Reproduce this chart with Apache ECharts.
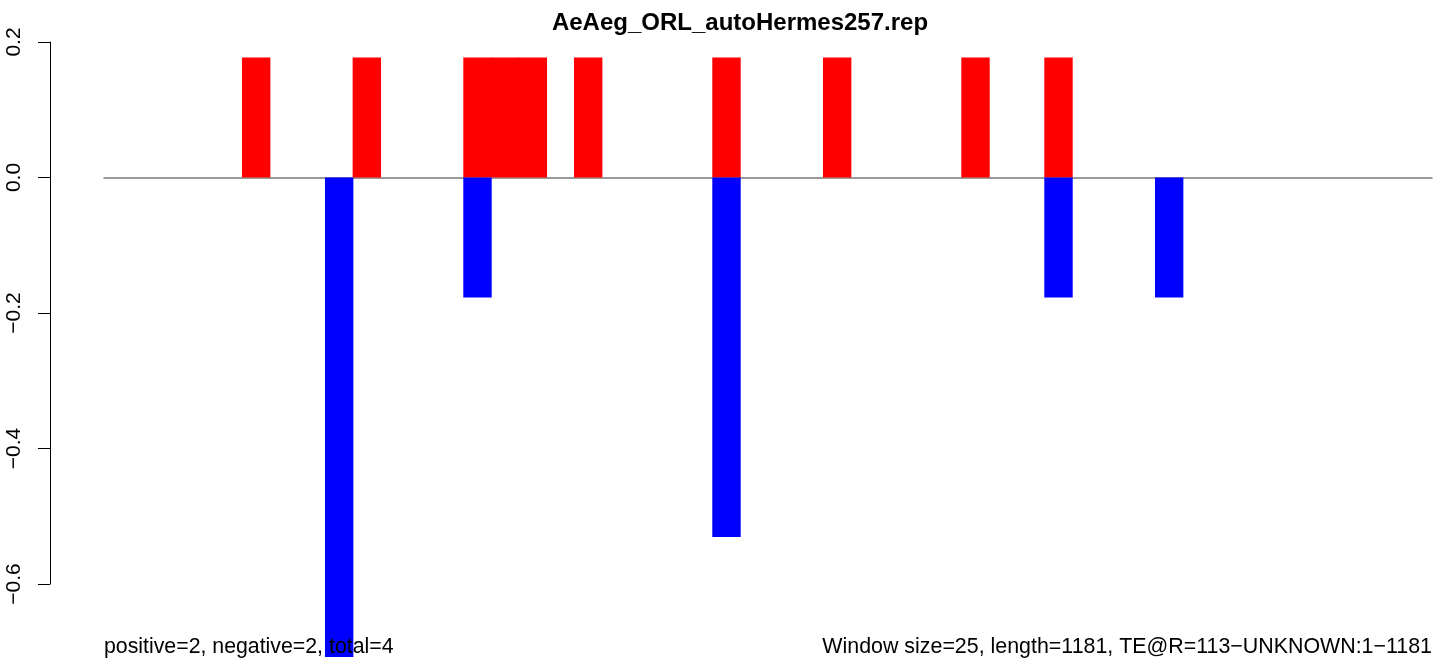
<!DOCTYPE html>
<html>
<head>
<meta charset="utf-8">
<script src="https://cdn.jsdelivr.net/npm/echarts@6/dist/echarts.min.js"></script>
<style>
html,body{margin:0;padding:0;background:#fff;}
#chart{width:1441px;height:667px;}
</style>
</head>
<body>
<div id="chart"></div>
<script>
// Window indices (48 windows of size 25 over length 1181)
const categories = Array.from({length: 48}, (_, i) => String(i + 1));
// Positive (red) values per window
const positiveValues = [
  0, 0, 0, 0, 0, 0.177, 0, 0, 0, 0.177,
  0, 0, 0, 0.177, 0.177, 0.177, 0, 0.177, 0, 0,
  0, 0, 0.177, 0, 0, 0, 0.177, 0, 0, 0,
  0, 0.177, 0, 0, 0.177, 0, 0, 0, 0, 0,
  0, 0, 0, 0, 0, 0, 0, 0
];
// Negative (blue) values per window
const negativeValues = [
  0, 0, 0, 0, 0, 0, 0, 0, -0.707, 0,
  0, 0, 0, -0.177, 0, 0, 0, 0, 0, 0,
  0, 0, -0.530, 0, 0, 0, 0, 0, 0, 0,
  0, 0, 0, 0, -0.177, 0, 0, 0, -0.177, 0,
  0, 0, 0, 0, 0, 0, 0, 0
];
const yTicks = [-0.6, -0.4, -0.2, 0.0, 0.2];
const titleText = 'AeAeg_ORL_autoHermes257.rep';
const leftNote = 'positive=2, negative=2, total=4';
const rightNote = 'Window size=25, length=1181, TE@R=113\u2212UNKNOWN:1\u22121181';

const FONT = '"Liberation Sans", Arial, Helvetica, sans-serif';
const chart = echarts.init(document.getElementById('chart'), null, {renderer: 'canvas'});

const fmt = v => {
  const r = Math.round(v * 10) / 10;
  return (r < 0 ? '\u2212' : '') + Math.abs(r).toFixed(1);
};
const toBars = arr => arr.map(v => (v === 0 ? null : v));

chart.setOption({
  animation: false,
  backgroundColor: '#ffffff',
  grid: [
    {left: 104, right: 9, top: 42, bottom: 8},
    {left: 50, width: 1, top: 42, bottom: 83}
  ],
  xAxis: [
    {
      type: 'category', gridIndex: 0, data: categories,
      boundaryGap: true,
      axisLine: {show: true, onZero: true, lineStyle: {color: '#7a7a7a', width: 1.5}},
      axisTick: {show: false}, axisLabel: {show: false}, splitLine: {show: false}
    },
    {
      type: 'value', gridIndex: 1, show: false, min: 0, max: 1
    }
  ],
  yAxis: [
    {
      type: 'value', gridIndex: 0, min: -0.71, max: 0.2, show: false
    },
    {
      type: 'value', gridIndex: 1, min: yTicks[0], max: yTicks[yTicks.length - 1], interval: 0.2,
      position: 'left',
      axisLine: {show: true, lineStyle: {color: '#000', width: 1}},
      axisTick: {show: true, length: 12, lineStyle: {color: '#000', width: 1}},
      axisLabel: {
        show: true, rotate: 90, margin: 25, color: '#000',
        fontFamily: FONT, fontSize: 21, formatter: fmt
      },
      splitLine: {show: false}
    }
  ],
  series: [
    {
      type: 'bar', name: 'positive', xAxisIndex: 0, yAxisIndex: 0,
      data: toBars(positiveValues), barWidth: 28.4, barGap: '-100%', barCategoryGap: 0,
      itemStyle: {color: '#ff0000'}, silent: true, z: 2
    },
    {
      type: 'bar', name: 'negative', xAxisIndex: 0, yAxisIndex: 0,
      data: toBars(negativeValues), barWidth: 28.4, barGap: '-100%', barCategoryGap: 0,
      itemStyle: {color: '#0000ff'}, silent: true, z: 2
    }
  ],
  graphic: [
    {
      type: 'text', z: 100, x: 740, y: 11,
      style: {text: titleText, font: 'bold 24px ' + FONT, fill: '#000', textAlign: 'center', textVerticalAlign: 'top'}
    },
    {
      type: 'text', z: 100, x: 104, y: 637,
      style: {text: leftNote, font: '21.3px ' + FONT, fill: '#000', textAlign: 'left', textVerticalAlign: 'top'}
    },
    {
      type: 'text', z: 100, x: 1432, y: 637,
      style: {text: rightNote, font: '21.4px ' + FONT, fill: '#000', textAlign: 'right', textVerticalAlign: 'top'}
    }
  ]
});
</script>
</body>
</html>
